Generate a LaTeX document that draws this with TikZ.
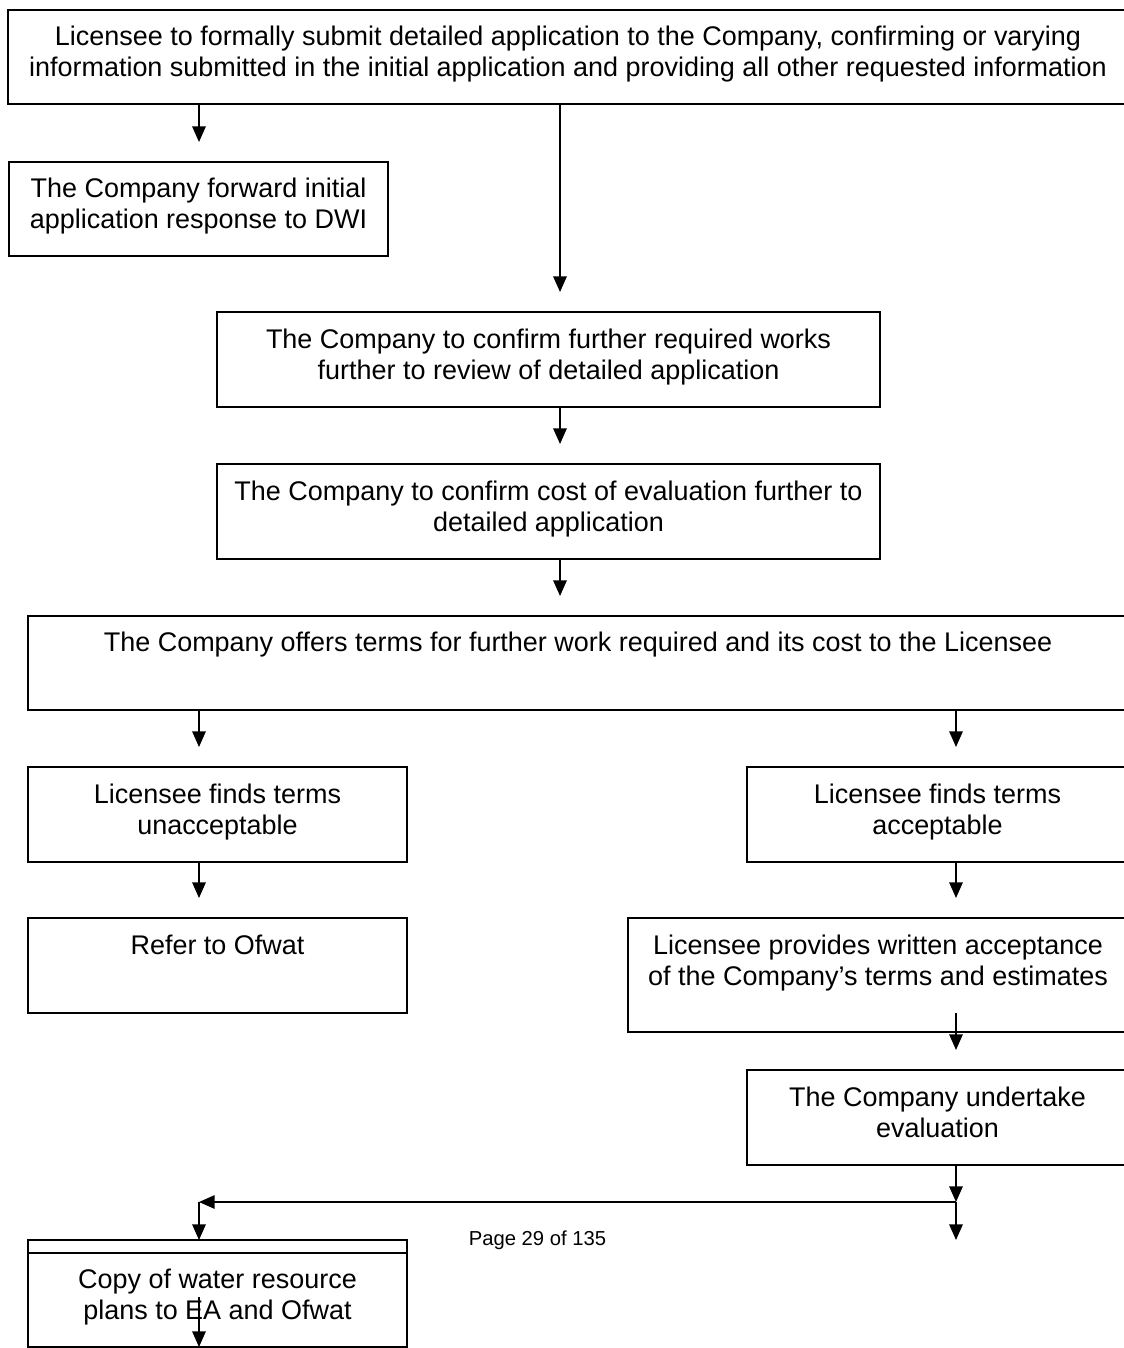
\documentclass[tikz,border=0pt]{standalone}
\usepackage{fontspec}
\setmainfont{Liberation Sans}
\usepackage{tikz}
\usetikzlibrary{positioning,calc,arrows.meta}
\newcommand{\pxu}{0.445pt}
\newcommand{\tstrut}{\rule{0pt}{9.66pt}}
\newcommand{\bstrut}[1][5.9pt]{\rule[-#1]{0pt}{#1}}

\begin{document}
\begin{tikzpicture}[x=0.445pt,y=-0.445pt,
	box/.style 2 args={draw, line width=0.8pt, align=center, inner sep=0pt, outer sep=0pt, font=\fontsize{12}{13.8}\selectfont, minimum width=#1*\pxu, minimum height=#2*\pxu},
	arr/.style={line width=0.75pt, -{Triangle[width=6pt,length=7pt]}},
	arrgap/.style={arr, shorten >=20*\pxu},
	pagefoot/.style={font=\fontsize{9}{11}\selectfont, inner sep=0pt}]
				\useasboundingbox (0,0) rectangle (1124,1348);
				\coordinate (lcol) at (199,0);
				\coordinate (spine) at (560,0);
				\coordinate (rcol) at (956,0);
				\node[box={1120}{94}] (submit) at (568, 57) {\tstrut Licensee to formally submit detailed application to the Company, confirming or varying\\information submitted in the initial application and providing all other requested information\bstrut};
				\node[box={379}{94}] (dwi) at (198.5, 209) {\tstrut The Company forward initial\\application response to DWI\bstrut};
				\node[box={663}{95}] (works) at (548.5, 359.5) {\tstrut The Company to confirm further required works\\further to review of detailed application\bstrut};
				\node[box={663}{95}] (cost) at (548.5, 511.5) {\tstrut The Company to confirm cost of evaluation further to\\detailed application\bstrut};
				\node[box={1100}{94}] (offer) at (578, 663) {\tstrut The Company offers terms for further work required and its cost to the Licensee\\ \bstrut};
				\node[box={379}{95}] (unacc) at (217.5, 814.5) {\tstrut Licensee finds terms\\unacceptable\bstrut};
				\node[box={381}{95}] (acc) at (937.5, 814.5) {\tstrut Licensee finds terms\\acceptable\bstrut};
				\node[box={379}{95}] (ofwat) at (217.5, 965.5) {\tstrut Refer to Ofwat\\ \bstrut};
				\node[box={500}{114}] (accept) at (878, 975) {\tstrut Licensee provides written acceptance\\of the Company’s terms and estimates\bstrut[14.5pt]};
				\node[box={381}{95}] (eval) at (937.5, 1117.5) {\tstrut The Company undertake\\evaluation\bstrut};
				\node[box={379}{94}] (copy) at (217.5, 1300) {\tstrut Copy of water resource\\plans to EA and Ofwat\bstrut};
				\draw[line width=0.8pt] (copy.north west) rectangle ([yshift=13*\pxu]copy.north east);
				\node[pagefoot] (pageno) at (537.5, 1240) {Page 29 of 135};
				\coordinate (split) at (956, 1202);
				\coordinate (rend) at (956, 1240);
				\draw[arrgap] (submit.south -| lcol) -- (dwi.north -| lcol);
				\draw[arrgap] (submit.south -| spine) -- (works.north -| spine);
				\draw[arrgap] (works.south -| spine) -- (cost.north -| spine);
				\draw[arrgap] (cost.south -| spine) -- (offer.north -| spine);
				\draw[arrgap] (offer.south -| lcol) -- (unacc.north -| lcol);
				\draw[arrgap] (offer.south -| rcol) -- (acc.north -| rcol);
				\draw[arrgap] (unacc.south -| lcol) -- (ofwat.north -| lcol);
				\draw[arrgap] (acc.south -| rcol) -- (accept.north -| rcol);
				\draw[arrgap] ([yshift=19*\pxu]accept.south -| rcol) -- (eval.north -| rcol);
				\draw[arr] (eval.south -| rcol) -- (split);
				\draw[arr] (split) -- (split -| lcol);
				\draw[arr] (split) -- (rend);
				\draw[arr, shorten >=13*\pxu] (split -| lcol) -- (copy.north -| lcol);
				\draw[arr] ([yshift=50*\pxu]copy.south -| lcol) -- (copy.south -| lcol);
\end{tikzpicture}
\end{document}
